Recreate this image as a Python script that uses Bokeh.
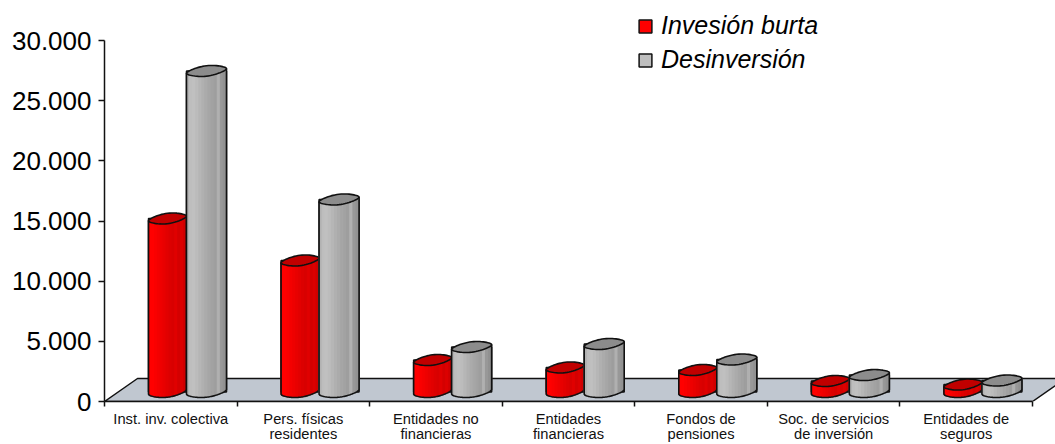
import numpy as np
from bokeh.plotting import figure
from bokeh.models import Range1d, FixedTicker, Legend, LegendItem, LinearAxis
from bokeh.embed import file_html
from bokeh.resources import INLINE

categories = [["Inst. inv. colectiva", ""], ["Pers. físicas", "residentes"], ["Entidades no", "financieras"],
              ["Entidades", "financieras"], ["Fondos de", "pensiones"], ["Soc. de servicios", "de inversión"],
              ["Entidades de", "seguros"]]
inversion = [14420, 10930, 2660, 2040, 1830, 915, 620]
desinversion = [26680, 16000, 3740, 3990, 2700, 1410, 955]
y_ticks = [0, 5000, 10000, 15000, 20000, 25000, 30000]
y_labels = ["0", "5.000", "10.000", "15.000", "20.000", "25.000", "30.000"]
series_names = ["Invesión burta", "Desinversión"]

red_shades = ["#FF0000", "#FF0000", "#FA0000", "#F40000", "#EE0000", "#E80000", "#E20000",
              "#DC0000", "#D80000", "#E00000", "#D40000", "#DC0000", "#D00000"]
grey_shades = ["#B2B2B2", "#BEBEBE", "#C0C0C0", "#BCBCBC", "#B6B6B6", "#B0B0B0", "#ABABAB",
               "#A6A6A6", "#A2A2A2", "#9E9E9E", "#B0B0B0", "#989898", "#929292"]
red_top, grey_top = "#C00000", "#8C8C8C"

# pixel geometry of the plot
X0, X7, Y0, Y30 = 104, 1032, 401, 40
FIG_W, FIG_H = 1055, 444
PX_X = (X7 - X0) / 7
PX_Y = (Y0 - Y30) / 30000
xr = Range1d(0, (FIG_W - X0) / PX_X)
yr = Range1d(0, Y0 / PX_Y)

p = figure(width=FIG_W, height=FIG_H, output_backend="svg", toolbar_location=None,
           x_range=xr, y_range=yr, min_border_left=X0, min_border_right=0,
           min_border_top=0, min_border_bottom=FIG_H - Y0, outline_line_color=None)
p.grid.visible = False

# floor
depth_x, depth_y = 33 / PX_X, 23 / PX_Y
p.patch([0, 7, 7 + depth_x, depth_x], [0, 0, depth_y, depth_y],
        fill_color="#C0C7D0", line_color="#111111", line_width=1.5)

# cylinders
base = 9.5 / PX_Y
HH, TILT, WOB = 4.8 / PX_Y, 2.3 / PX_Y, 0.4 / PX_Y
u = np.linspace(-1, 1, 41)
red_left, grey_left = 44 / PX_X, 82 / PX_X
red_w, grey_w = 38 / PX_X, 40 / PX_X
idx = np.arange(len(categories))

# plain series bars (hidden behind the cylinders) that carry the legend
r1 = p.quad(left=idx + red_left, right=idx + red_left + red_w, bottom=base,
            top=base + np.array(inversion), fill_color="#FF0000", line_color="#111111", line_width=1.5)
r2 = p.quad(left=idx + grey_left, right=idx + grey_left + grey_w, bottom=base,
            top=base + np.array(desinversion), fill_color="#BEBEBE", line_color="#111111", line_width=1.5)


def cylinder(left, width, val, shades, top_color):
    cx, hw = left + width / 2, width / 2
    top = base + val

    def front(uu, c):
        th = np.arccos(np.clip(uu, -1, 1))  # front half of the rim
        return c - HH * np.sin(th) + TILT * uu + WOB * np.sin(3 * th)

    n = len(shades)
    edges = np.linspace(-1, 1, n + 1)
    xs, ys = [], []
    for i in range(n):
        uu = np.linspace(edges[i], edges[i + 1], 5)
        xs.append(list(cx + hw * uu) + list(cx + hw * uu[::-1]))
        ys.append(list(front(uu, top)) + list(front(uu[::-1], base)))
    p.patches(xs, ys, fill_color=shades, line_color=shades, line_width=1)
    sx = [cx - hw] + list(cx + hw * u) + [cx + hw]
    sy = [front(np.array(-1.0), top)] + list(front(u, base)) + [front(np.array(1.0), top)]
    p.line(sx, sy, line_color="#111111", line_width=1.6)
    t = np.linspace(0, 2 * np.pi, 61)
    p.patch(cx + hw * np.cos(t), top + HH * np.sin(t) + TILT * np.cos(t) - WOB * np.sin(3 * t),
            fill_color=top_color, line_color="#111111", line_width=1.6)


for i in idx:
    cylinder(i + red_left, red_w, inversion[i], red_shades, red_top)
    cylinder(i + grey_left, grey_w, desinversion[i], grey_shades, grey_top)

# axes
ya = p.yaxis[0]
ya.ticker = FixedTicker(ticks=y_ticks)
ya.major_label_overrides = dict(zip(y_ticks, y_labels))
ya.bounds = (0, 30000)
ya.major_label_text_font = "Liberation Sans"
ya.major_label_text_font_size = "26px"
ya.major_label_text_color = "#000000"
ya.major_tick_out, ya.major_tick_in = 6, 0
ya.minor_tick_out = ya.minor_tick_in = 0
ya.major_label_standoff = 7
ya.axis_line_color = ya.major_tick_line_color = "#111111"
ya.axis_line_width = ya.major_tick_line_width = 1.5

xa = p.xaxis[0]
centers = [i + 0.5 for i in idx.tolist()]
xa.ticker = FixedTicker(ticks=centers, minor_ticks=list(range(len(categories) + 1)))
xa.major_label_overrides = {c: lines[0] for c, lines in zip(centers, categories)}
xa.bounds = (0, 7)
xa.major_label_text_font = "Liberation Sans"
xa.major_label_text_font_size = "14.7px"
xa.major_label_text_color = "#111111"
xa.major_tick_out = xa.major_tick_in = 0
xa.minor_tick_out, xa.minor_tick_in = 5, 0
xa.major_label_standoff = 4
xa.axis_line_color = xa.minor_tick_line_color = "#111111"
xa.axis_line_width = xa.minor_tick_line_width = 1.5

# second line of the two-line category labels: a second, line-free axis right below
second = [c for c, lines in zip(centers, categories) if lines[1]]
xb = LinearAxis(ticker=FixedTicker(ticks=second),
                major_label_overrides={c: lines[1] for c, lines in zip(centers, categories) if lines[1]},
                axis_line_color=None, major_tick_line_color=None, minor_tick_line_color=None,
                major_tick_out=0, major_tick_in=0, minor_tick_out=0, minor_tick_in=0,
                major_label_standoff=-4, major_label_text_font="Liberation Sans",
                major_label_text_font_size="14.7px", major_label_text_color="#111111")
p.add_layout(xb, "below")

# legend
legend = Legend(items=[LegendItem(label=series_names[0], renderers=[r1]),
                       LegendItem(label=series_names[1], renderers=[r2])],
                location=(533, 327), orientation="vertical", margin=0, padding=0,
                spacing=5, glyph_width=16, glyph_height=16, label_standoff=8,
                label_text_font="Liberation Sans", label_text_font_style="italic",
                label_text_font_size="25px", label_text_color="#000000",
                background_fill_alpha=0, border_line_color=None)
p.add_layout(legend, "center")

open("out.html", "w").write(file_html(p, INLINE))
